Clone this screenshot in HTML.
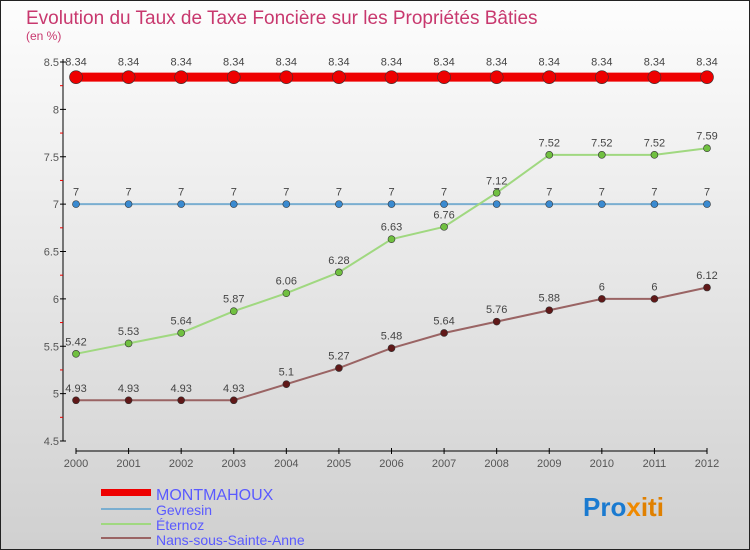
<!DOCTYPE html>
<html><head><meta charset="utf-8"><style>
body{margin:0;width:750px;height:550px;overflow:hidden;font-family:"Liberation Sans",sans-serif}
#wrap{position:relative;width:748px;height:548px;border:1px solid #222;background:linear-gradient(#fdfdfd,#d0d0d0)}
</style></head><body>
<div id="wrap">
<svg id="chart" width="748" height="548" style="position:absolute;left:0;top:0">
<text x="25" y="23" font-size="19" fill="#c8386e">Evolution du Taux de Taxe Foncière sur les Propriétés Bâties</text>
<text x="25" y="39" font-size="12" fill="#c8386e">(en %)</text>
<g id="axes"></g><g id="series"></g>
<g>
<rect x="100" y="488" width="50" height="7" fill="#e00"/>
<text x="155" y="499" font-size="16" fill="#5a5aff">MONTMAHOUX</text>
<rect x="100" y="507" width="50" height="2" fill="#7aaed0"/>
<text x="155" y="514" font-size="14" fill="#5a5aff">Gevresin</text>
<rect x="100" y="522" width="50" height="2" fill="#a0d880"/>
<text x="155" y="529" font-size="14" fill="#5a5aff">Éternoz</text>
<rect x="100" y="536" width="50" height="2" fill="#9a6464"/>
<text x="155" y="544" font-size="14" fill="#5a5aff">Nans-sous-Sainte-Anne</text>
</g>
<text x="582" y="515" font-size="26" font-weight="bold"><tspan fill="#1a7ad0">Pro</tspan><tspan fill="#f08a00">x</tspan><tspan fill="#e08000">iti</tspan></text>
</svg>
</div>
<script>
const years=[2000,2001,2002,2003,2004,2005,2006,2007,2008,2009,2010,2011,2012];
const montmahoux=[8.34,8.34,8.34,8.34,8.34,8.34,8.34,8.34,8.34,8.34,8.34,8.34,8.34];
const gevresin=[7,7,7,7,7,7,7,7,7,7,7,7,7];
const eternoz=[5.42,5.53,5.64,5.87,6.06,6.28,6.63,6.76,7.12,7.52,7.52,7.52,7.59];
const nans=[4.93,4.93,4.93,4.93,5.1,5.27,5.48,5.64,5.76,5.88,6,6,6.12];
const yTicks=[4.5,5,5.5,6,6.5,7,7.5,8,8.5];
const NS="http://www.w3.org/2000/svg";
const X=i=>75+i*(706-75)/(years.length-1);
const Y=v=>440-(v-4.5)*(440-61)/4;
function mk(t,a,p){const e=document.createElementNS(NS,t);for(const k in a)e.setAttribute(k,a[k]);p.appendChild(e);return e;}
const ax=document.getElementById('axes');
let yl=mk('line',{x1:62,y1:58,x2:62,y2:440,stroke:'#000'},ax);


let xl=mk('line',{x1:75,y1:450,x2:706,y2:450,stroke:'#000'},ax);


yTicks.forEach((v,i)=>{
 mk('line',{x1:59,x2:65,y1:Y(v),y2:Y(v),stroke:'#000'},ax);
 if(i<yTicks.length-1)mk('line',{x1:59,x2:62,y1:Y(v+0.25),y2:Y(v+0.25),stroke:'#e00'},ax);
 const t=mk('text',{x:58,y:Y(v)+4,'font-size':11,fill:'#555','text-anchor':'end'},ax);t.textContent=v;
 
 
});
years.forEach((y,i)=>{
 mk('line',{x1:X(i),x2:X(i),y1:447,y2:453,stroke:'#000'},ax);
 const t=mk('text',{x:X(i),y:466,'font-size':11,fill:'#555','text-anchor':'middle'},ax);t.textContent=y;
 
 
});
const sg=document.getElementById('series');
function draw(vals,name,col,w,r,dot){
 const g=mk('g',{},sg);
 
 
 mk('polyline',{points:vals.map((v,i)=>X(i)+','+Y(v)).join(' '),fill:'none',stroke:col,'stroke-width':w},g);
 vals.forEach((v,i)=>{
  const c=mk('circle',{cx:X(i),cy:Y(v),r:r,fill:dot,stroke:'#333','stroke-width':0.6},g);
  
  
  const t=mk('text',{x:X(i),y:Y(v)-(r+5),'font-size':11,fill:'#444','text-anchor':'middle'},g);t.textContent=v;
  
  
 });
}
draw(gevresin,'gevresin','#7aaed0',2,3.5,'#3a8ad0');
draw(eternoz,'eternoz','#a0d880',2,3.5,'#70c040');
draw(nans,'nans','#9a6464',2,3.5,'#601818');
draw(montmahoux,'montmahoux','#e00',9,6.5,'#e00');
</script>
</body></html>
